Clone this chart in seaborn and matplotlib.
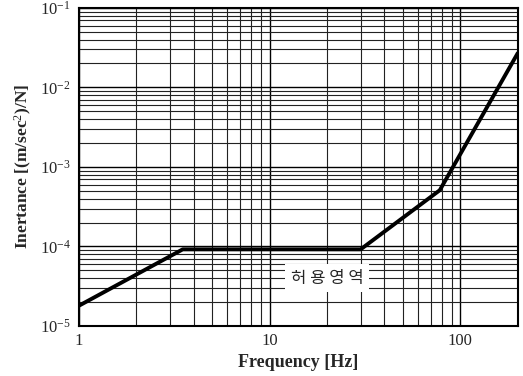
import numpy as np
import pandas as pd
import matplotlib
matplotlib.use("Agg")
import matplotlib.pyplot as plt
import seaborn as sns
from matplotlib.ticker import LogLocator, FixedLocator, FixedFormatter, NullFormatter

# breakpoints of the allowable inertance curve
freq = [1.0, 3.5, 30.0, 78.0, 200.0]
inertance = [1.8e-5, 9.2e-5, 9.2e-5, 5.1e-4, 2.7e-2]

x_ticks = [1, 10, 100]
x_labels = ["1", "10", "100"]
y_ticks = [1e-5, 1e-4, 1e-3, 1e-2, 1e-1]
y_labels = ["$10^{-5}$", "$10^{-4}$", "$10^{-3}$", "$10^{-2}$", "$10^{-1}$"]
region_label = "허 용 영 역"

sns.set_style("white")
plt.rcParams['font.family'] = ['Liberation Serif', 'DejaVu Serif']
plt.rcParams['mathtext.fontset'] = 'custom'
plt.rcParams['mathtext.rm'] = 'Liberation Serif'
plt.rcParams['mathtext.it'] = 'Liberation Serif'
plt.rcParams['mathtext.bf'] = 'Liberation Serif:bold'

df = pd.DataFrame({"freq": freq, "inertance": inertance})

fig = plt.figure(figsize=(5.23, 3.76), dpi=100)
ax = fig.add_axes([0.151, 0.133, 0.839, 0.846])

ax.set_xscale("log")
ax.set_yscale("log")
ax.set_xlim(1, 200)
ax.set_ylim(1e-5, 1e-1)

sns.lineplot(data=df, x="freq", y="inertance", ax=ax, color="black", linewidth=2.8, zorder=5)

ax.xaxis.set_major_locator(FixedLocator(x_ticks))
ax.xaxis.set_major_formatter(FixedFormatter(x_labels))
ax.xaxis.set_minor_locator(LogLocator(base=10, subs=np.arange(2, 10), numticks=20))
ax.xaxis.set_minor_formatter(NullFormatter())
ax.yaxis.set_major_locator(FixedLocator(y_ticks))
ax.yaxis.set_major_formatter(FixedFormatter(y_labels))
ax.yaxis.set_minor_locator(LogLocator(base=10, subs=np.arange(2, 10), numticks=20))
ax.yaxis.set_minor_formatter(NullFormatter())

ax.grid(True, which="major", color="black", linewidth=1.0)
ax.grid(True, which="minor", color="#222222", linewidth=0.8)
ax.tick_params(axis="x", which="both", length=0, labelsize=12, pad=5)
ax.tick_params(axis="y", which="both", length=0, labelsize=12, pad=6)
for s in ax.spines.values():
    s.set_color("black")
    s.set_linewidth(1.5)

ax.set_xlabel("Frequency [Hz]", fontsize=13, fontweight="bold", labelpad=4)
ax.set_ylabel("Inertance [(m/sec$^2$)/N]", fontsize=12.5, fontweight="bold", labelpad=4)

ax.text(20, 4.0e-5, region_label, ha="center", va="center", fontsize=12,
        family=['Noto Sans CJK KR', 'DejaVu Sans'], zorder=6,
        bbox=dict(facecolor="white", edgecolor="none", pad=4))

fig.savefig("out.png", dpi=100)
